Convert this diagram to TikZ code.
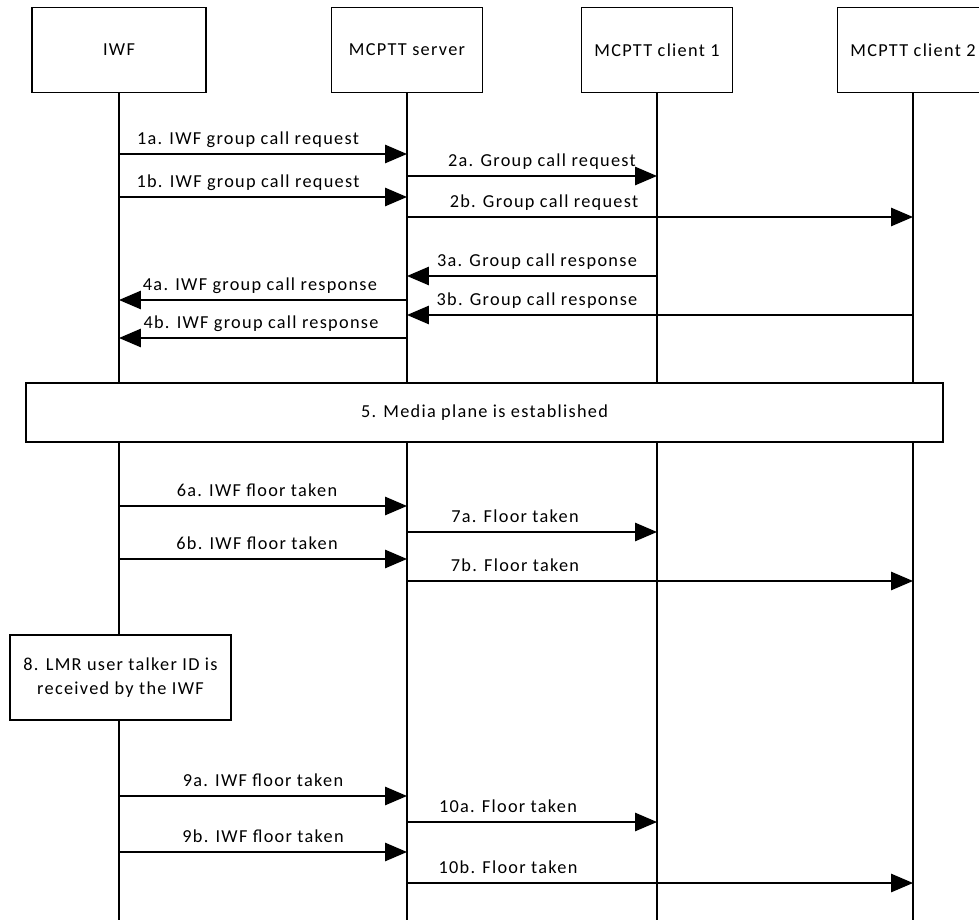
\documentclass[tikz,border=0pt]{standalone}
\usepackage{fontspec}
\setmainfont{Carlito}[LetterSpace=7]
\usetikzlibrary{arrows.meta}

\begin{document}
\begin{tikzpicture}[x=0.025cm,y=-0.025cm,line width=1pt,
  box/.style={draw,fill=white,align=center,inner sep=2pt,font=\fontsize{13}{17}\selectfont},
  hdr/.style={box,minimum width=3.775cm,minimum height=2.125cm},
  msg/.style={-{Triangle[length=15.5pt,width=13pt]}},
  lbl/.style={anchor=base,inner sep=0pt,font=\fontsize{13}{15}\selectfont}]
\useasboundingbox (0,0) rectangle (979,920);
\node[hdr,minimum width=4.35cm] (iwf) at (119,50) {IWF};
\node[hdr] (srv) at (407,50) {MCPTT server};
\node[hdr] (cl1) at (657,50) {MCPTT client 1};
\node[hdr] (cl2) at (913,50) {MCPTT client 2};
\foreach \n in {iwf,srv,cl1,cl2} \draw (\n.south) -- (\n |- 0,920);
\node[box,minimum width=22.925cm,minimum height=1.475cm] (media) at (484.5,412.5) {5. Media plane is established};
\node[box,minimum width=5.525cm,minimum height=2.125cm] (lmr) at (120.5,677.5) {8. LMR user talker ID is\\received by the IWF};
\foreach \a/\b/\y/\x/\t in {
  iwf/srv/154/248/{1a. IWF group call request},
  srv/cl1/176/542/{2a. Group call request},
  iwf/srv/197/248/{1b. IWF group call request},
  srv/cl2/217/544/{2b. Group call request},
  cl1/srv/276/537/{3a. Group call response},
  srv/iwf/300/260/{4a. IWF group call response},
  cl2/srv/315/537/{3b. Group call response},
  srv/iwf/338/261/{4b. IWF group call response},
  iwf/srv/506/257/{6a. IWF floor taken},
  srv/cl1/532/515/{7a. Floor taken},
  iwf/srv/559/257/{6b. IWF floor taken},
  srv/cl2/581/515/{7b. Floor taken},
  iwf/srv/796/263/{9a. IWF floor taken},
  srv/cl1/822/508/{10a. Floor taken},
  iwf/srv/852/263/{9b. IWF floor taken},
  srv/cl2/883/508/{10b. Floor taken}} {
  \draw[msg] (\a |- 0,\y) -- (\b |- 0,\y);
  \node[lbl] (t\y) at (\x,\y-10) {\t};
}
\end{tikzpicture}
\end{document}
